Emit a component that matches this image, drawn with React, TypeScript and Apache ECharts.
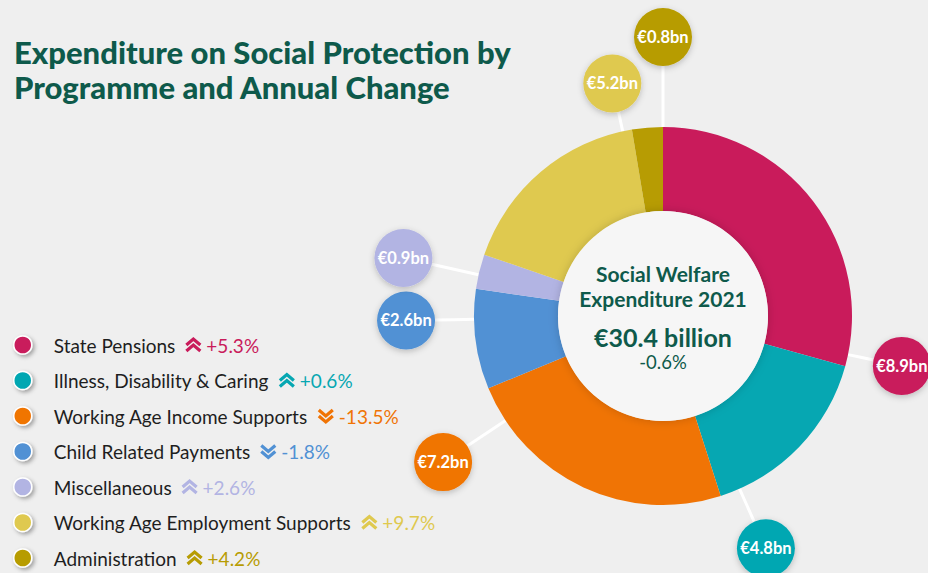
import React, { useEffect, useRef } from 'react';
import * as echarts from 'echarts';

// ---------- data ----------
const categories = [
  'State Pensions',
  'Illness, Disability & Caring',
  'Working Age Income Supports',
  'Child Related Payments',
  'Miscellaneous',
  'Working Age Employment Supports',
  'Administration',
];
const spendBn = [8.9, 4.8, 7.2, 2.6, 0.9, 5.2, 0.8];
const annualChangePct = [5.3, 0.6, -13.5, -1.8, 2.6, 9.7, 4.2];
const totalChangePct = -0.6;
const centerTitleLines = ['Social Welfare', 'Expenditure 2021'];
const chartTitleLines = ['Expenditure on Social Protection by', 'Programme and Annual Change'];

// ---------- styles / layout ----------
const palette = ['#c91b5b', '#06a7b2', '#f07405', '#5191d4', '#b2b4e3', '#dfc94f', '#b79c03'];
const bubbleAngleDeg = [101.8, 156.1, 236.4, 269, 282.6, 347.7, 0];
const bubbleDist = [244, 254, 264, 257, 266, 238, 279];
const PIE_CX = 663;
const PIE_CY = 316;
const R_IN = 105;
const R_OUT = 189;
const BUBBLE_R = 29;
const GREEN = '#0e5a4b';

const chevronUri = (color: string, up: boolean) => {
  const pts = up ? ['2,9 9,3 16,9', '2,15 9,9 16,15'] : ['2,3 9,9 16,3', '2,9 9,15 16,9'];
  const svg = `<svg xmlns="http://www.w3.org/2000/svg" width="18" height="18" viewBox="0 0 18 18"><g fill="none" stroke="${color}" stroke-width="3.2"><polyline points="${pts[0]}"/><polyline points="${pts[1]}"/></g></svg>`;
  return 'data:image/svg+xml;charset=utf-8,' + encodeURIComponent(svg);
};

const fmtPct = (v: number) => (v > 0 ? '+' : '') + v.toFixed(1) + '%';

export default function App() {
  const ref = useRef<HTMLDivElement>(null);
  useEffect(() => {
    document.body.style.margin = '0';
    document.body.style.background = '#efefef';
    const chart = echarts.init(ref.current!, null, { renderer: 'svg' });
    const total = spendBn.reduce((a, b) => a + b, 0);

    const rich: Record<string, any> = {
      nm: { fontFamily: 'Lato', fontSize: 19, color: '#1e1e1e', lineHeight: 20 },
      sp0: { width: 3, height: 20 },
      sp1: { width: 9, height: 20 },
      sp2: { width: 4, height: 20 },
    };
    annualChangePct.forEach((v, i) => {
      rich['a' + i] = {
        width: 18,
        height: 18,
        backgroundColor: { image: chevronUri(palette[i], v >= 0) },
      };
      rich['p' + i] = { fontFamily: 'Lato', fontSize: 19, color: palette[i], lineHeight: 20 };
    });

    const option: any = {
      animation: false,
      backgroundColor: '#efefef',
      title: {
        text: chartTitleLines.join('\n'),
        left: 14,
        top: 34,
        padding: 0,
        textStyle: { fontFamily: 'Lato', fontSize: 31, fontWeight: 900, color: GREEN, lineHeight: 35 },
      },
      legend: {
        data: categories,
        orient: 'vertical',
        left: 13,
        top: 335,
        height: 250,
        padding: 0,
        icon: 'circle',
        itemWidth: 46,
        itemHeight: 18,
        itemGap: 15.5,
        selectedMode: false,
        itemStyle: {
          borderColor: '#ffffff',
          borderWidth: 1.5,
          shadowBlur: 4,
          shadowOffsetX: 2,
          shadowOffsetY: 2,
          shadowColor: 'rgba(0,0,0,0.35)',
        },
        formatter: (name: string) => {
          const i = categories.indexOf(name);
          return `{sp0|}{nm|${name}}{sp1|}{a${i}|}{sp2|}{p${i}|${fmtPct(annualChangePct[i])}}`;
        },
        textStyle: { fontFamily: 'Lato', fontSize: 19, color: '#1e1e1e', lineHeight: 20, rich },
      },
      series: [
        {
          type: 'pie',
          center: [PIE_CX, PIE_CY],
          radius: [R_IN, R_OUT],
          startAngle: 90,
          clockwise: true,
          avoidLabelOverlap: false,
          silent: true,
          itemStyle: { borderWidth: 0 },
          data: categories.map((name, i) => ({
            name,
            value: spendBn[i],
            itemStyle: { color: palette[i] },
            label: { backgroundColor: palette[i] },
          })),
          label: {
            show: true,
            position: 'outside',
            formatter: (p: any) => `€${p.value.toFixed(1)}bn`,
            color: '#fff',
            fontFamily: 'Lato',
            fontWeight: 'bold',
            fontSize: 16.5,
            width: BUBBLE_R * 2,
            height: BUBBLE_R * 2,
            lineHeight: BUBBLE_R * 2,
            borderRadius: BUBBLE_R,
            padding: 0,
            align: 'center',
            verticalAlign: 'middle',
            shadowBlur: 6,
            shadowOffsetY: 2,
            shadowColor: 'rgba(0,0,0,0.22)',
          },
          labelLine: { show: true, length: 10, length2: 10, lineStyle: { color: '#ffffff', width: 3 } },
          labelLayout: (p: any) => {
            const i = p.dataIndex;
            const a = (bubbleAngleDeg[i] * Math.PI) / 180;
            const sx = Math.sin(a);
            const sy = -Math.cos(a);
            const d = bubbleDist[i];
            const r1 = d - BUBBLE_R;
            const rm = (R_OUT + r1) / 2;
            return {
              x: PIE_CX + d * sx,
              y: PIE_CY + d * sy,
              align: 'center',
              verticalAlign: 'middle',
              labelLinePoints: [
                [PIE_CX + R_OUT * sx, PIE_CY + R_OUT * sy],
                [PIE_CX + rm * sx, PIE_CY + rm * sy],
                [PIE_CX + r1 * sx, PIE_CY + r1 * sy],
              ],
            };
          },
        },
        {
          type: 'pie',
          center: [PIE_CX, PIE_CY],
          radius: [0, R_IN],
          silent: true,
          z: 3,
          data: [
            {
              name: 'total',
              value: total,
              itemStyle: { color: '#f6f6f6', shadowBlur: 10, shadowColor: 'rgba(0,0,0,0.18)' },
            },
          ],
          labelLine: { show: false },
          label: {
            show: true,
            position: 'center',
            formatter: () =>
              `{a|${centerTitleLines[0]}}\n{b|${centerTitleLines[1]}}\n{c|€${total.toFixed(1)} billion}\n{d|${fmtPct(totalChangePct)}}`,
            rich: {
              a: { fontFamily: 'Lato', fontSize: 21, fontWeight: 'bold', color: GREEN, lineHeight: 14 },
              b: { fontFamily: 'Lato', fontSize: 21, fontWeight: 'bold', color: GREEN, lineHeight: 36 },
              c: { fontFamily: 'Lato', fontSize: 25, fontWeight: 'bold', color: GREEN, lineHeight: 41 },
              d: { fontFamily: 'Lato', fontSize: 18.5, color: GREEN, lineHeight: 8 },
            },
          },
        },
      ],
    };
    chart.setOption(option);
    return () => chart.dispose();
  }, []);
  return (
    <div
      ref={ref}
      style={{ position: 'fixed', left: 0, top: 0, width: 928, height: 573, background: '#efefef' }}
    />
  );
}
